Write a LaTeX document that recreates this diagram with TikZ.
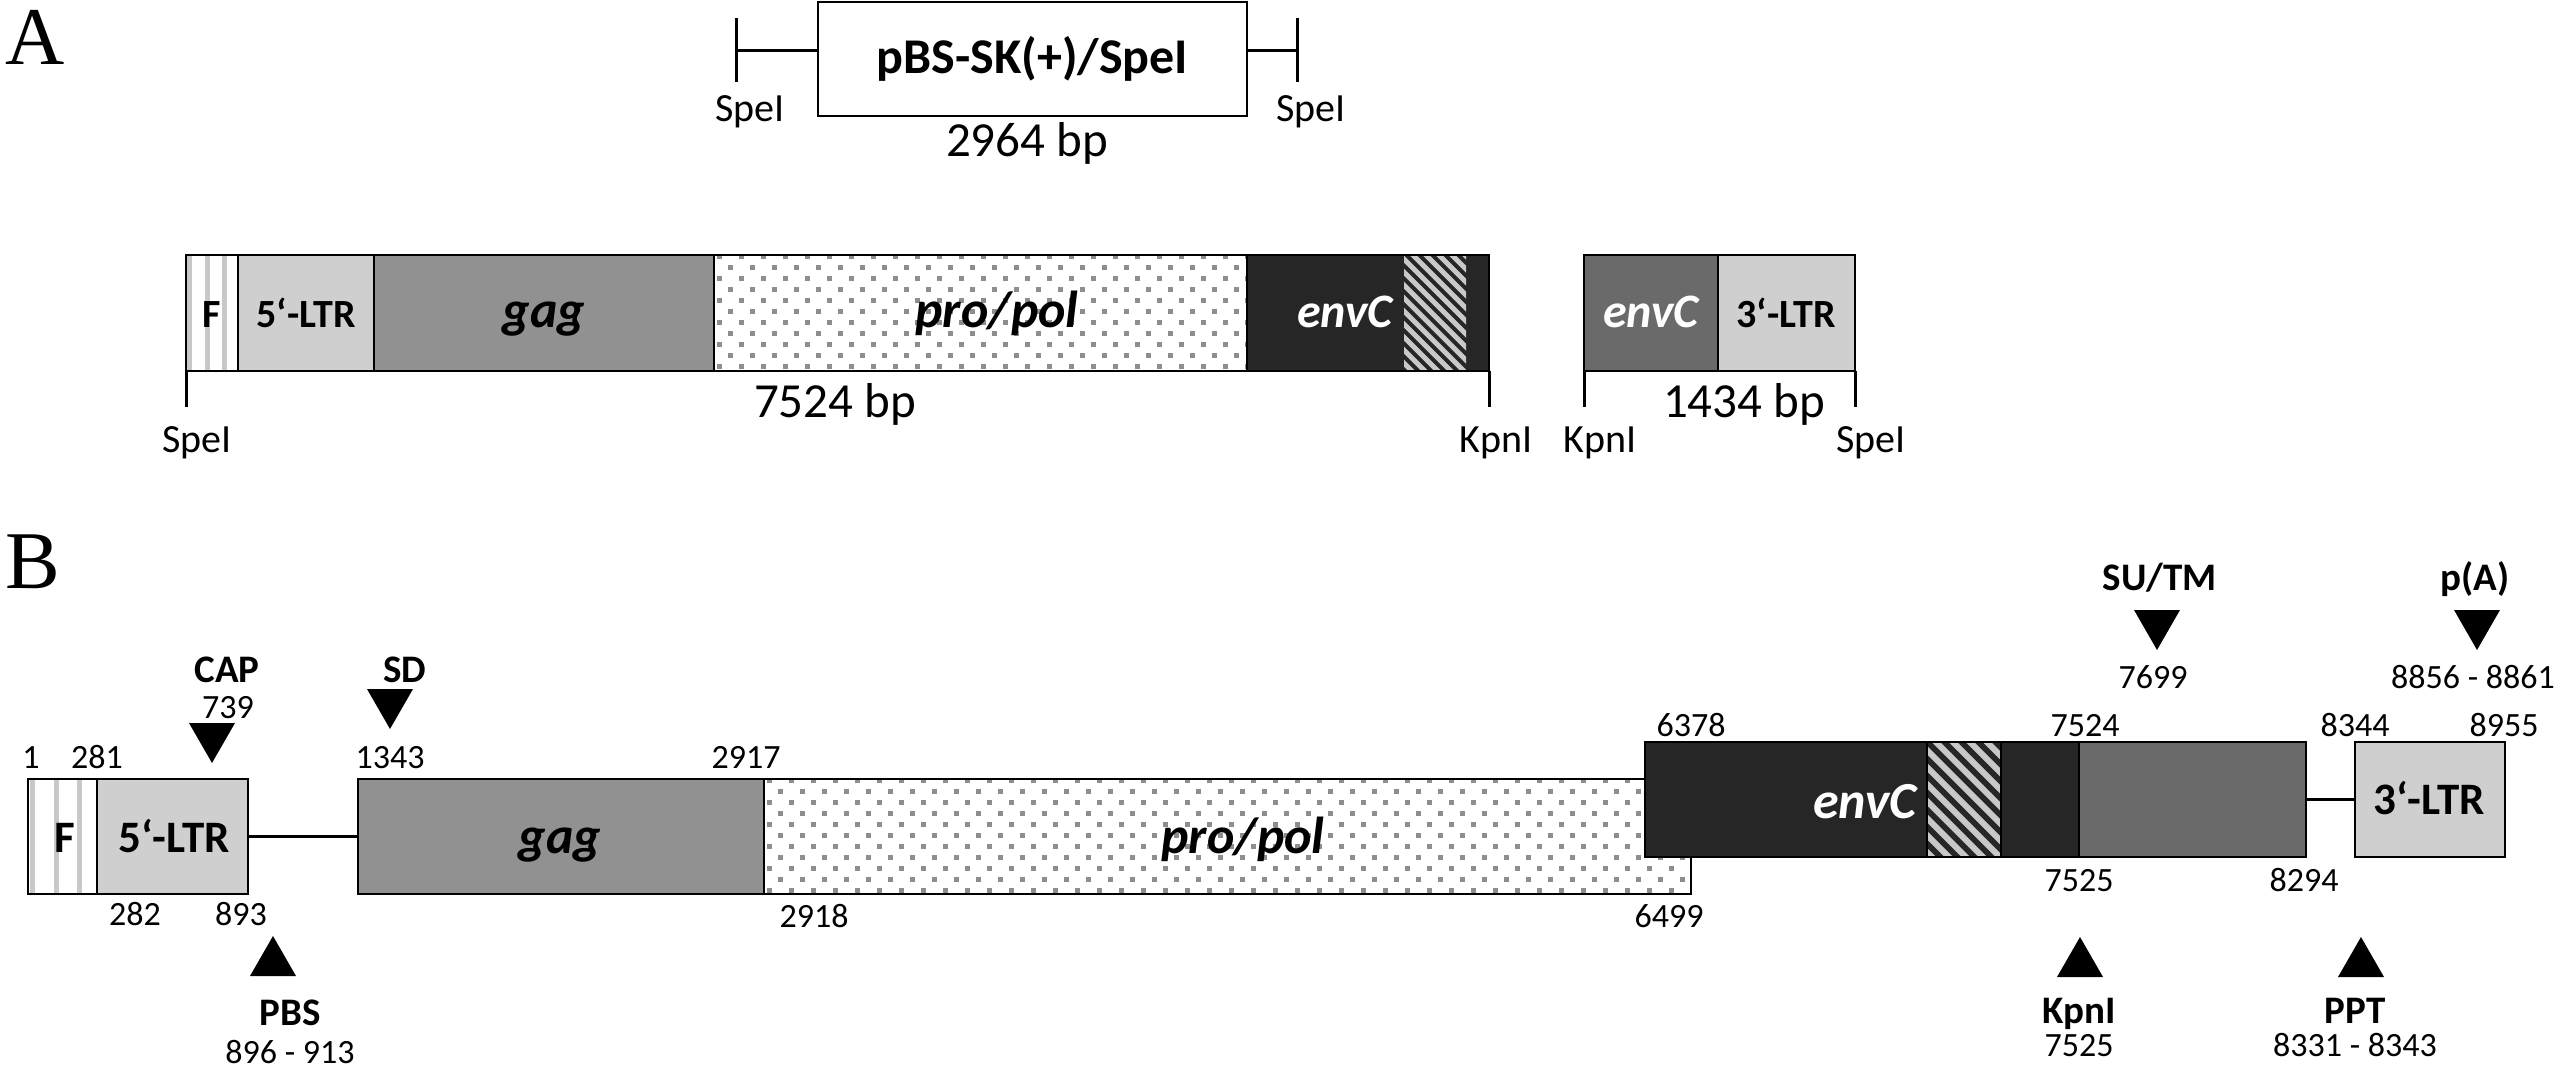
\documentclass[tikz,border=0pt]{standalone}
\usepackage{fontspec}
\setmainfont{Carlito}
\newfontfamily\serifA{Liberation Serif}
\usetikzlibrary{calc}

\definecolor{ltrgray}{HTML}{CFCFCF}
\definecolor{gaggray}{HTML}{919191}
\definecolor{envdark}{HTML}{262626}
\definecolor{envmid}{HTML}{6A6A6A}
\definecolor{stripegray}{HTML}{C8C8C8}
\definecolor{dotgray}{HTML}{8E8E8E}

\newcommand{\myfs}[1]{\fontsize{#1}{#1}\selectfont}

\tikzset{
  seg/.style={draw=black, line width=2.2pt, rectangle, inner sep=0pt, outer sep=0pt, anchor=north west},
  tickline/.style={line width=3pt},
  conn/.style={line width=3.5pt},
  panel/.style={font=\serifA\myfs{82}, anchor=base, inner sep=0pt},
  cutlab/.style={font=\myfs{40}, anchor=base, inner sep=0pt},
  bplabel/.style={font=\myfs{49}, anchor=base, inner sep=0pt},
  numlab/.style={font=\myfs{34}, anchor=base, inner sep=0pt},
  sitelab/.style={font=\bfseries\myfs{39}, anchor=base, inner sep=0pt},
  boxA/.style={font=\bfseries\myfs{40}, anchor=base, inner sep=0pt},
  boxB/.style={font=\bfseries\myfs{45}, anchor=base, inner sep=0pt},
  geneA/.style={font=\bfseries\itshape\myfs{52}, anchor=base, inner sep=0pt},
  geneB/.style={font=\bfseries\itshape\myfs{52}, anchor=base, inner sep=0pt},
  fbox/.style={fill=white, path picture={
    \foreach \f in {0.07,0.41,0.74}{
      \draw[stripegray, line width=5pt]
        ($(path picture bounding box.north west)!\f!(path picture bounding box.north east)$) --
        ($(path picture bounding box.south west)!\f!(path picture bounding box.south east)$);
    }}},
  dotbox/.style={fill=white, path picture={
    \foreach \r in {0,...,11}{
      \pgfmathtruncatemacro{\off}{mod(\r,2)*11}
      \foreach \c in {0,22,...,968}{
        \fill[dotgray] ($(path picture bounding box.north west)+(\c+\off+3,11*\r-1)$) rectangle ++(5,5);
      }
    }}},
  hatchA/.style={draw=none, fill=envdark, path picture={
    \foreach \k in {-12,...,8}{
      \draw[stripegray, line width=5pt]
        ($(path picture bounding box.north west)+(13*\k,-10)$) -- ++(150,150);
    }}},
  hatchB/.style={draw=none, fill=envdark, path picture={
    \foreach \k in {-12,...,8}{
      \draw[stripegray, line width=6pt]
        ($(path picture bounding box.north west)+(17*\k,-10)$) -- ++(150,150);
    }}},
  tridown/.pic={\fill (-23,0) -- (23,0) -- (0,40) -- cycle;},
  triup/.pic={\fill (-23,0) -- (23,0) -- (0,-40) -- cycle;}
}

\begin{document}
\begin{tikzpicture}[x=1pt,y=-1pt]
\useasboundingbox (0,0) rectangle (2560,1067);

% panel letters
\node[panel] (lA) at (35,65) {A};
\node[panel] (lB) at (33,588) {B};

% ---------- Panel A, row 1 ----------
\node[seg, minimum width=429pt, minimum height=114pt, font=\bfseries\myfs{50}] (pbs) at (818,2) {pBS-SK(+)/SpeI};
\coordinate (pL) at (736,51);
\coordinate (pLt) at (736,18);
\coordinate (pLb) at (736,82);
\coordinate (pR) at (1297,51);
\coordinate (pRt) at (1297,18);
\coordinate (pRb) at (1297,82);
\draw[tickline] (pL) -- (pL -| pbs.west);
\draw[tickline] (pR) -- (pR -| pbs.east);
\draw[tickline] (pLt) -- (pLb);
\draw[tickline] (pRt) -- (pRb);
\node[cutlab] (spA1) at (750,122) {SpeI};
\node[cutlab] (spA2) at (1311,122) {SpeI};
\node[bplabel] (bpA1) at (1027,157) {2964 bp};

% ---------- Panel A, row 2 ----------
\node[seg, fbox, minimum width=52pt, minimum height=116pt] (aF) at (186,255) {};
\node[seg, fill=ltrgray, minimum width=136pt, minimum height=116pt] (aLTR) at (238,255) {};
\node[seg, fill=gaggray, minimum width=340pt, minimum height=116pt] (aGag) at (374,255) {};
\node[seg, dotbox, minimum width=533pt, minimum height=116pt] (aPol) at (714,255) {};
\node[seg, fill=envdark, minimum width=242pt, minimum height=116pt] (aEnv) at (1247,255) {};
\node[seg, hatchA, minimum width=62pt, minimum height=113.6pt] (aHatch) at (1404,256.2) {};
\node[seg, fill=envmid, minimum width=134pt, minimum height=116pt] (aEnv2) at (1584,255) {};
\node[seg, fill=ltrgray, minimum width=137pt, minimum height=116pt] (a3LTR) at (1718,255) {};

\node[boxA] (aFT) at (212,327) {F};
\node[boxA] (aLTRT) at (306,327) {5‘-LTR};
\node[geneA] (aGagT) at (544,328) {gag};
\node[geneA] (aPolT) at (997,328) {pro/pol};
\node[geneA, text=white, font=\bfseries\itshape\myfs{48}] (aEnvT) at (1345,328) {envC};
\node[geneA, text=white, font=\bfseries\itshape\myfs{48}] (aEnv2T) at (1651,328) {envC};
\node[boxA] (a3LTRT) at (1786,327) {3‘-LTR};

\coordinate (t1) at (186,407);
\coordinate (t2) at (1489,407);
\coordinate (t3) at (1584,407);
\coordinate (t4) at (1855,407);
\draw[tickline] (aF.south west) -- (t1);
\draw[tickline] (aEnv.south east) -- (t2);
\draw[tickline] (aEnv2.south west) -- (t3);
\draw[tickline] (a3LTR.south east) -- (t4);

\node[cutlab] (spA3) at (197,452) {SpeI};
\node[cutlab] (kpA1) at (1496,452) {KpnI};
\node[cutlab] (kpA2) at (1600,452) {KpnI};
\node[cutlab] (spA4) at (1871,452) {SpeI};
\node[bplabel] (bpA2) at (835,417) {7524 bp};
\node[bplabel] (bpA3) at (1744,417) {1434 bp};

% ---------- Panel B ----------
\node[seg, fbox, minimum width=69pt, minimum height=115pt] (bF) at (28,779) {};
\node[seg, fill=ltrgray, minimum width=151pt, minimum height=115pt] (bLTR) at (97,779) {};
\node[seg, fill=gaggray, minimum width=406pt, minimum height=115pt] (bGag) at (358,779) {};
\node[seg, dotbox, minimum width=927pt, minimum height=115pt] (bPol) at (764,779) {};
\draw[conn] (bLTR.east) -- (bGag.west);

\node[seg, fill=envdark, minimum width=434pt, minimum height=115pt] (bEnv) at (1645,742) {};
\node[seg, hatchB, minimum width=74pt, minimum height=112.6pt] (bHatch) at (1927,743.2) {};
\draw[line width=2.2pt] (bHatch.north west) -- (bHatch.south west);
\draw[line width=2.2pt] (bHatch.north east) -- (bHatch.south east);
\node[seg, fill=envmid, minimum width=227pt, minimum height=115pt] (bEnv2) at (2079,742) {};
\node[seg, fill=ltrgray, minimum width=150pt, minimum height=115pt] (b3LTR) at (2355,742) {};
\draw[conn] (bEnv2.east) -- (b3LTR.west);

\node[boxB] (bFT) at (65,852) {F};
\node[boxB] (bLTRT) at (174,852) {5‘-LTR};
\node[geneB] (bGagT) at (560,853) {gag};
\node[geneB] (bPolT) at (1243,853) {pro/pol};
\node[geneB, text=white] (bEnvT) at (1865,818) {envC};
\node[boxB] (b3LTRT) at (2429,814) {3‘-LTR};

% position numbers
\node[numlab] (n1) at (31,768) {1};
\node[numlab] (n281) at (97,768) {281};
\node[numlab] (n1343) at (390,768) {1343};
\node[numlab] (n2917) at (746,768) {2917};
\node[numlab] (n282) at (135,925) {282};
\node[numlab] (n893) at (241,925) {893};
\node[numlab] (n2918) at (814,927) {2918};
\node[numlab] (n6499) at (1669,927) {6499};
\node[numlab] (n6378) at (1691,736) {6378};
\node[numlab] (n7524) at (2085,736) {7524};
\node[numlab] (n8344) at (2355,736) {8344};
\node[numlab] (n8955) at (2504,736) {8955};
\node[numlab] (n7525) at (2079,891) {7525};
\node[numlab] (n8294) at (2304,891) {8294};

% sites
\pic at (212,723) {tridown};
\node[sitelab] (cap) at (227,682) {CAP};
\node[numlab] (cap739) at (228,718) {739};

\pic at (390,689) {tridown};
\node[sitelab] (sd) at (405,682) {SD};

\pic at (273,976) {triup};
\node[sitelab] (pbs2) at (290,1025) {PBS};
\node[numlab] (pbsn) at (290,1063) {896 - 913};

\pic at (2157,610) {tridown};
\node[sitelab] (sutm) at (2160,590) {SU/TM};
\node[numlab] (sutmn) at (2153,688) {7699};

\pic at (2477,610) {tridown};
\node[sitelab] (pa) at (2475,590) {p(A)};
\node[numlab] (pan) at (2473,688) {8856 - 8861};

\pic at (2080,977) {triup};
\node[sitelab] (kpn) at (2079,1023) {KpnI};
\node[numlab] (kpnn) at (2079,1056) {7525};

\pic at (2361,977) {triup};
\node[sitelab] (ppt) at (2355,1023) {PPT};
\node[numlab] (pptn) at (2355,1056) {8331 - 8343};
\end{tikzpicture}
\end{document}
